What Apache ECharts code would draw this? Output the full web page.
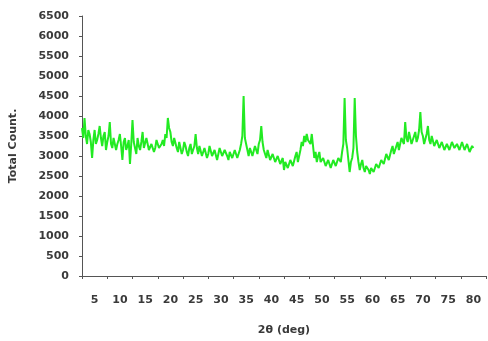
<!DOCTYPE html>
<html>
<head>
<meta charset="utf-8">
<script src="https://cdn.jsdelivr.net/npm/echarts@6/dist/echarts.min.js"></script>
<style>
  html, body { margin: 0; padding: 0; background: #fff; }
  #chart { width: 488px; height: 341px; }
</style>
</head>
<body>
<div id="chart"></div>
<script>
// tick labels of the 2θ axis (shown between tick marks)
const xLabels = ["5", "10", "15", "20", "25", "30", "35", "40", "45", "50", "55", "60", "65", "70", "75", "80"];

// 2θ start and step of the scan, counts
const twoThetaStart = 2.5;
const twoThetaStep = 0.25;
const counts = [
  3700, 3450, 3950, 3500, 3300, 3650, 3550, 3350, 2950, 3400, // 2.5
  3650, 3300, 3400, 3550, 3750, 3450, 3250, 3500, 3600, 3150, // 5.0
  3350, 3500, 3850, 3300, 3200, 3450, 3500, 3150, 3300, 3400, // 7.5
  3550, 3250, 2900, 3350, 3450, 3150, 3250, 3400, 2800, 3300, // 10.0
  3900, 3350, 3200, 3050, 3450, 3250, 3150, 3350, 3600, 3200, // 12.5
  3250, 3450, 3400, 3150, 3100, 3300, 3350, 3100, 3200, 3400, // 15.0
  3450, 3200, 3150, 3300, 3400, 3250, 3550, 3450, 3950, 3700, // 17.5
  3600, 3350, 3250, 3450, 3400, 3200, 3100, 3350, 3300, 3050, // 20.0
  3150, 3350, 3250, 3100, 3000, 3200, 3300, 3050, 3100, 3250, // 22.5
  3550, 3200, 3050, 3250, 3200, 3000, 2950, 3200, 3150, 2950, // 25.0
  3050, 3250, 3200, 3000, 2950, 3150, 3150, 2900, 3050, 3200, // 27.5
  3250, 3000, 2950, 3150, 3100, 3000, 2900, 3100, 3150, 2950, // 30.0
  3000, 3150, 3200, 2950, 2950, 3150, 3300, 3500, 4500, 3450, // 32.5
  3400, 3150, 3000, 3200, 3250, 3000, 3050, 3250, 3200, 3050, // 35.0
  3300, 3400, 3750, 3350, 3150, 3050, 2950, 3150, 3100, 2900, // 37.5
  2850, 3050, 3050, 2850, 2800, 3000, 2950, 2800, 2750, 2950, // 40.0
  2650, 2850, 2900, 2700, 2700, 2900, 2950, 2750, 2800, 3000, // 42.5
  3100, 2850, 2900, 3150, 3350, 3250, 3500, 3350, 3550, 3400, // 45.0
  3450, 3300, 3550, 3250, 2950, 3100, 2850, 3000, 3100, 2850, // 47.5
  2800, 2950, 2900, 2750, 2750, 2900, 2850, 2700, 2700, 2900, // 50.0
  2900, 2750, 2800, 2950, 3000, 2850, 3100, 3300, 4450, 3400, // 52.5
  3200, 2900, 2600, 2850, 2950, 3200, 4450, 3500, 3100, 2850, // 55.0
  2650, 2800, 2900, 2700, 2600, 2750, 2800, 2650, 2550, 2700, // 57.5
  2750, 2600, 2650, 2800, 2850, 2700, 2700, 2900, 2950, 2800, // 60.0
  2850, 3050, 3100, 2900, 2950, 3150, 3250, 3050, 3050, 3250, // 62.5
  3350, 3150, 3200, 3450, 3500, 3300, 3850, 3450, 3350, 3600, // 65.0
  3550, 3300, 3300, 3500, 3600, 3350, 3450, 3650, 4100, 3600, // 67.5
  3500, 3300, 3350, 3550, 3750, 3400, 3300, 3500, 3450, 3250, // 70.0
  3250, 3400, 3400, 3200, 3200, 3350, 3350, 3150, 3150, 3300, // 72.5
  3300, 3150, 3200, 3350, 3350, 3200, 3150, 3300, 3350, 3150, // 75.0
  3200, 3350, 3300, 3150, 3150, 3300, 3250, 3100, 3100, 3250, // 77.5
  3200                                                        // 80.0
];

const chart = echarts.init(document.getElementById("chart"));

const points = counts.map((c, i) => [twoThetaStart + i * twoThetaStep, c]);

const labelFont = {
  fontFamily: "DejaVu Sans",
  fontSize: 11,
  fontWeight: "bold",
  color: "#3a3a3a",
};

const option = {
  animation: false,
  grid: {
    left: 80,
    right: 2,
    top: 16,
    bottom: 65,
  },
  xAxis: [
    {
      type: "category",
      data: xLabels,
      boundaryGap: true,
      name: "2θ (deg)",
      nameLocation: "middle",
      nameGap: 49,
      nameTextStyle: { ...labelFont, fontSize: 11 },
      axisLine: { lineStyle: { color: "#555", width: 1 } },
      axisTick: { show: true, length: 3, lineStyle: { color: "#555" } },
      axisLabel: { ...labelFont, interval: 0, margin: 19 },
      splitLine: { show: false },
    },
    {
      type: "value",
      min: 2.5,
      max: 82.5,
      show: false,
    },
  ],
  yAxis: {
    type: "value",
    min: 0,
    max: 6500,
    interval: 500,
    name: "Total Count.",
    nameLocation: "middle",
    nameGap: 63,
    nameTextStyle: { ...labelFont, fontSize: 11 },
    axisLine: { show: true, lineStyle: { color: "#555", width: 1 } },
    axisTick: { show: true, length: 3, lineStyle: { color: "#555" } },
    axisLabel: { ...labelFont, margin: 13, formatter: (v) => String(v) },
    splitLine: { show: false },
  },
  series: [
    {
      type: "line",
      xAxisIndex: 1,
      data: points,
      showSymbol: false,
      lineStyle: { color: "#22ea22", width: 2 },
    },
  ],
};

chart.setOption(option);
</script>
</body>
</html>
